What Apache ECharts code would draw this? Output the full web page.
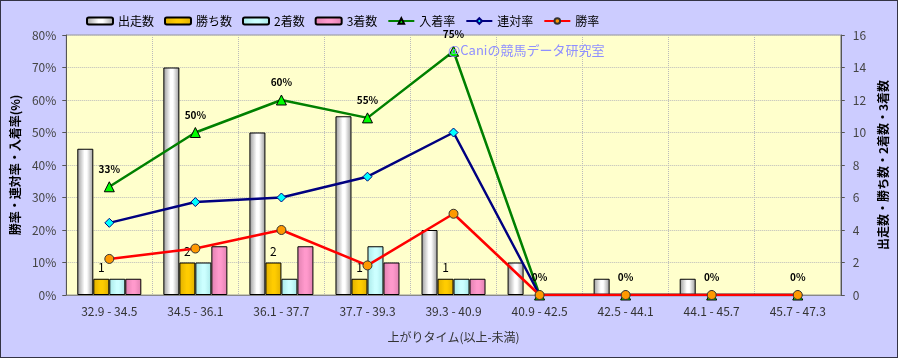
<!DOCTYPE html>
<html><head><meta charset="utf-8">
<script src="https://cdn.jsdelivr.net/npm/echarts@6/dist/echarts.min.js"></script>
<style>
html,body{margin:0;padding:0;background:#CCCCFF;}
#c{width:896px;height:356px;border:1px solid #333344;}
</style></head>
<body><div id="c"></div>
<script>
const categories = ['32.9 - 34.5','34.5 - 36.1','36.1 - 37.7','37.7 - 39.3','39.3 - 40.9','40.9 - 42.5','42.5 - 44.1','44.1 - 45.7','45.7 - 47.3'];
const runners = [9, 14, 10, 11, 4, 2, 1, 1, 0];
const wins = [1, 2, 2, 1, 1, 0, 0, 0, 0];
const seconds = [1, 2, 1, 3, 1, 0, 0, 0, 0];
const thirds = [1, 3, 3, 2, 1, 0, 0, 0, 0];
const placeRate = [33.3, 50, 60, 54.5, 75, 0, 0, 0, 0];
const top2Rate = [22.2, 28.6, 30, 36.4, 50, 0, 0, 0, 0];
const winRate = [11.1, 14.3, 20, 9.1, 25, 0, 0, 0, 0];
const leftTicks = [0, 80, 10];
const rightTicks = [0, 16, 2];

const font = '"Noto Sans CJK JP", sans-serif';
const chart = echarts.init(document.getElementById('c'));
function hgrad(edge, mid){
  return new echarts.graphic.LinearGradient(0,0,1,0,[
    {offset:0,color:edge},{offset:0.45,color:mid},{offset:0.6,color:mid},{offset:1,color:edge}]);
}
const nz = arr => arr.map(v => v === 0 ? '-' : v);
const barBase = {type:'bar', yAxisIndex:1, barWidth:16, barGap:'0%'};
chart.setOption({
  backgroundColor:'#CCCCFF',
  textStyle:{fontFamily:font},
  legend:{top:9,left:80,itemWidth:26,itemHeight:7,itemGap:10,
    textStyle:{fontSize:12,color:'#000',fontFamily:font},
    data:['出走数','勝ち数','2着数','3着数','入着率','連対率','勝率']},
  grid:{left:65,right:55,top:34,bottom:62,show:true,backgroundColor:'#FFFFCC',borderColor:'#999',borderWidth:1},
  xAxis:{type:'category',data:categories,
    axisLine:{lineStyle:{color:'#888'}},axisTick:{show:false},
    axisLabel:{color:'#333',fontSize:12,margin:10,fontFamily:font},
    splitLine:{show:true,lineStyle:{color:'#bbb',type:'dotted'}},
    name:'上がりタイム(以上-未満)',nameLocation:'middle',nameGap:36,
    nameTextStyle:{color:'#333',fontSize:12,fontFamily:font}},
  yAxis:[
    {type:'value',min:leftTicks[0],max:leftTicks[1],interval:leftTicks[2],position:'left',
     axisLine:{show:true,lineStyle:{color:'#555'}},axisTick:{show:true,length:4,lineStyle:{color:'#555'}},
     axisLabel:{formatter:'{value}%',color:'#444',fontSize:12,margin:10},
     splitLine:{show:true,lineStyle:{color:'#bbb',type:'dotted'}},
     name:'勝率・連対率・入着率(%)',nameLocation:'middle',nameGap:42,nameRotate:90,
     nameTextStyle:{color:'#000',fontSize:12,fontWeight:'bold',fontFamily:font}},
    {type:'value',min:rightTicks[0],max:rightTicks[1],interval:rightTicks[2],position:'right',
     axisLine:{show:true,lineStyle:{color:'#555'}},axisTick:{show:true,length:4,lineStyle:{color:'#555'}},
     axisLabel:{color:'#444',fontSize:12,margin:12},
     splitLine:{show:false},
     name:'出走数・勝ち数・2着数・3着数',nameLocation:'middle',nameGap:34,nameRotate:90,
     nameTextStyle:{color:'#000',fontSize:12,fontWeight:'bold',fontFamily:font}}
  ],
  graphic:[{type:'text',left:447,top:43,z:100,style:{text:'@Caniの競馬データ研究室',fill:'#8f8fff',font:'13px '+font}}],
  series:[
    Object.assign({},barBase,{name:'出走数',data:nz(runners),itemStyle:{borderColor:'#000',borderWidth:1,color:hgrad('#9a9a9a','#ffffff')}}),
    Object.assign({},barBase,{name:'勝ち数',data:nz(wins),itemStyle:{borderColor:'#000',borderWidth:1,color:hgrad('#e0b000','#ffcc00')},
      label:{show:true,position:'top',distance:5,color:'#000',fontSize:12}}),
    Object.assign({},barBase,{name:'2着数',data:nz(seconds),itemStyle:{borderColor:'#000',borderWidth:1,color:hgrad('#a8e8e8','#ccffff')}}),
    Object.assign({},barBase,{name:'3着数',data:nz(thirds),itemStyle:{borderColor:'#000',borderWidth:1,color:hgrad('#e080b0','#ff99cc')}}),
    {name:'入着率',type:'line',yAxisIndex:0,data:placeRate,symbol:'triangle',symbolSize:10,z:5,
      lineStyle:{color:'#008000',width:2.5},itemStyle:{color:'#00ff00',borderColor:'#000',borderWidth:1},
      label:{show:true,position:'top',distance:7,color:'#000',fontSize:10,fontWeight:'bold',formatter:p=>Math.round(p.value)+'%'}},
    {name:'連対率',type:'line',yAxisIndex:0,data:top2Rate,symbol:'diamond',symbolSize:9,z:6,
      lineStyle:{color:'#000080',width:2.5},itemStyle:{color:'#00ffff',borderColor:'#000080',borderWidth:1}},
    {name:'勝率',type:'line',yAxisIndex:0,data:winRate,symbol:'circle',symbolSize:9,z:7,
      lineStyle:{color:'#ff0000',width:2.5},itemStyle:{color:'#ff9900',borderColor:'#333',borderWidth:1}}
  ]
});
</script></body></html>
